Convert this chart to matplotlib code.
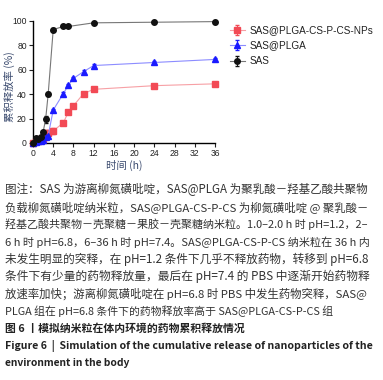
import matplotlib
matplotlib.use("Agg")
import matplotlib.pyplot as plt

plt.rcParams['font.family'] = ['Noto Sans CJK SC', 'DejaVu Sans']

# release data (cumulative %)
t_sas = [0, 0.5, 1, 1.5, 2, 2.5, 3, 4, 6, 7, 12, 24, 36]
y_sas = [0, 4, 3, 5, 9, 19.5, 40, 93, 95.5, 95.5, 98.5, 99, 99.5]
e_sas = [0.5, 1, 1, 1, 1, 3, 1.5, 1, 0.5, 0.5, 0.5, 0.5, 0.5]

t_plga = [0, 0.5, 1, 1.5, 2, 2.5, 3, 4, 6, 7, 8, 10, 12, 24, 36]
y_plga = [0, 1, 1.5, 2, 2.5, 5, 6, 27, 40.5, 47.5, 53, 58.5, 63.5, 66, 68.5]
e_plga = [0.5, 0.5, 0.5, 0.5, 0.5, 1, 1.5, 1, 1, 1, 1, 1, 1, 1, 1]

t_np = [0, 0.5, 1, 1.5, 2, 2.5, 3, 4, 6, 7, 8, 10, 12, 24, 36]
y_np = [0, 2, 2, 3, 3.5, 7, 8, 10, 16.5, 25.5, 30.5, 40.5, 44, 47, 48.5]
e_np = [0.5, 1, 1, 1, 1, 4, 3, 2.5, 1, 1, 1, 1, 1, 1, 1]

series_labels = ["SAS@PLGA-CS-P-CS-NPs", "SAS@PLGA", "SAS"]
x_ticks = list(range(0, 37, 4))
y_ticks = list(range(0, 101, 20))

caption_lines = [
    "图注：SAS 为游离柳氮磺吡啶，SAS@PLGA 为聚乳酸－羟基乙酸共聚物",
    "负载柳氮磺吡啶纳米粒，SAS@PLGA-CS-P-CS 为柳氮磺吡啶 @ 聚乳酸－",
    "羟基乙酸共聚物－壳聚糖－果胶－壳聚糖纳米粒。1.0–2.0 h 时 pH=1.2，2–",
    "6 h 时 pH=6.8，6–36 h 时 pH=7.4。SAS@PLGA-CS-P-CS 纳米粒在 36 h 内",
    "未发生明显的突释，在 pH=1.2 条件下几乎不释放药物，转移到 pH=6.8",
    "条件下有少量的药物释放量，最后在 pH=7.4 的 PBS 中逐渐开始药物释",
    "放速率加快；游离柳氮磺吡啶在 pH=6.8 时 PBS 中发生药物突释，SAS@",
    "PLGA 组在 pH=6.8 条件下的药物释放率高于 SAS@PLGA-CS-P-CS 组",
]
title_cn = "图 6 丨模拟纳米粒在体内环境的药物累积释放情况"
title_en = ["Figure 6  |  Simulation of the cumulative release of nanoparticles of the",
            "environment in the body"]

W, H = 383, 380
fig = plt.figure(figsize=(W / 100, H / 100), dpi=100)
ax = fig.add_axes([33 / W, 1 - 143 / H, (215 - 33) / W, (143 - 21) / H])

styles = [
    (t_np, y_np, e_np, "s", "#f24a55", "#f7a0a5", 3),
    (t_plga, y_plga, e_plga, "^", "#1a1aff", "#8c8cff", 3),
    (t_sas, y_sas, e_sas, "o", "#111111", "#777777", 4),
]
for (t, y, e, mk, mcol, lcol, z), lab in zip(styles, series_labels):
    ax.errorbar(t, y, yerr=e, color=lcol, ecolor=mcol, marker=mk, ms=4,
                mfc=mcol, mec=mcol, lw=0.8, elinewidth=0.7, capsize=1.2,
                label=lab, clip_on=False, zorder=z)

ax.set_xlim(0, 36)
ax.set_ylim(0, 100)
ax.set_xticks(x_ticks)
ax.set_yticks(y_ticks)
ax.spines["top"].set_visible(False)
ax.spines["right"].set_visible(False)
for s in ["left", "bottom"]:
    ax.spines[s].set_linewidth(1.0)
ax.tick_params(labelsize=6.2, length=3, width=0.8, pad=1.5, colors="#222222")
for lbl in ax.get_xticklabels() + ax.get_yticklabels():
    lbl.set_family("Liberation Sans")
lab_col = "#3a4a6e"
ax.set_xlabel("时间 (h)", fontsize=7.5, color=lab_col, labelpad=1)
ax.set_ylabel("累积释放率 (%)", fontsize=7.5, color=lab_col, va="center")
ax.yaxis.set_label_coords(-0.13, 0.46)

handles, labels = ax.get_legend_handles_labels()
leg = fig.legend(handles, labels, loc="upper left", bbox_to_anchor=(226 / W, 1 - 21 / H),
                 frameon=False, fontsize=7.2, handlelength=1.5, handletextpad=0.5,
                 labelspacing=0.55, borderaxespad=0)
for tx in leg.get_texts():
    tx.set_family("Liberation Sans")
    tx.set_color("#222222")

# caption, each line stretched toward the right margin like the justified original
txt_col = "#333333"
y0 = 190
step = 17.3
target = 365
renderer = fig.canvas.get_renderer()


def put(line, row, size, justify, **kw):
    t = fig.text(5 / W, 1 - (y0 + row * step) / H, line, fontsize=size,
                 va="center", ha="left", **kw)
    if justify:
        w = t.get_window_extent(renderer).width
        t.set_fontsize(size * min(target / w, 1.08))
    return t


for i, line in enumerate(caption_lines):
    put(line, i, 7.8, i < len(caption_lines) - 1, color=txt_col)
put(title_cn, 8, 7.8, False, color="#222222", fontweight="bold")
put(title_en[0], 9, 7.4, True, color="#222222", fontweight="bold")
put(title_en[1], 10, 7.4, False, color="#222222", fontweight="bold")

fig.savefig("out.png", dpi=100)
